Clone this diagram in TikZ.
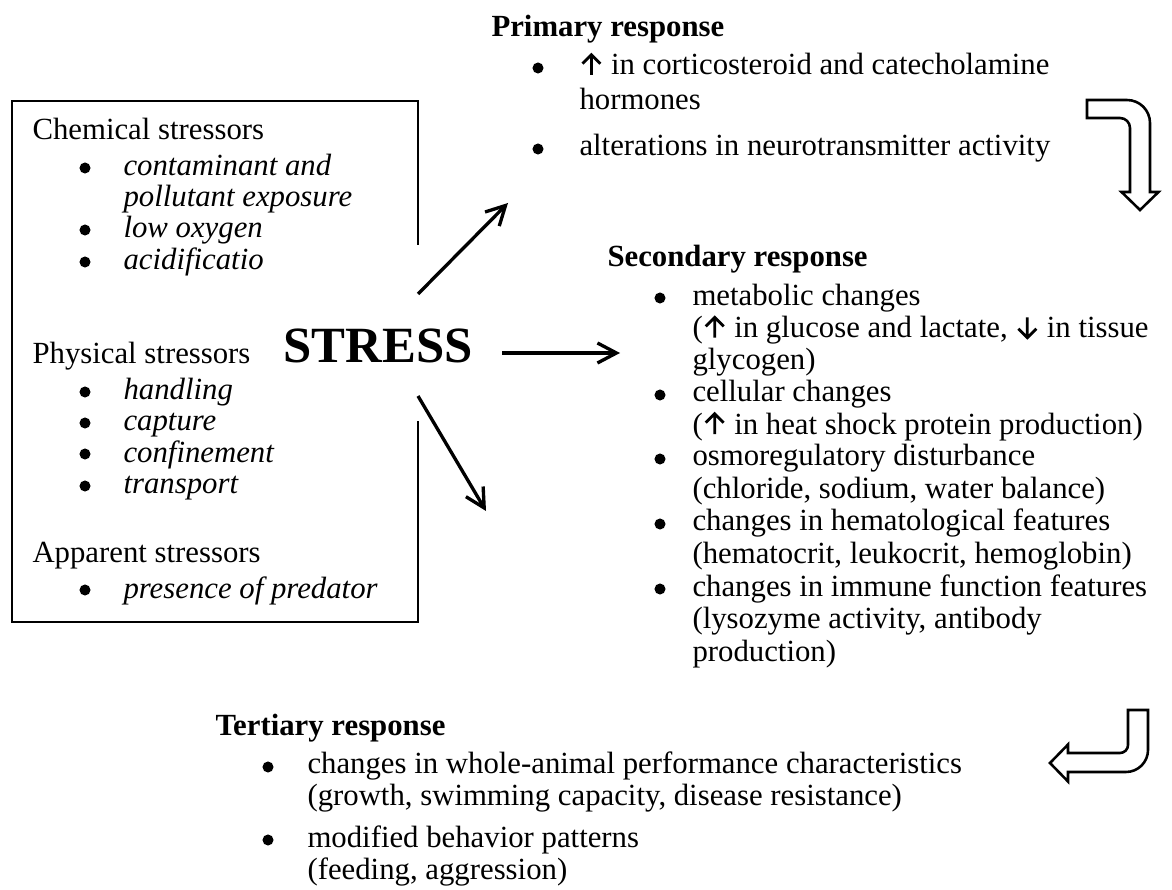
\documentclass[tikz,border=0pt]{standalone}
\usepackage{fontspec}
\setmainfont{Liberation Serif}
\usetikzlibrary{arrows.meta}
% heavy arrows used inside the response lists
\newcommand{\riseArrow}{\kern0.6pt\tikz[baseline=0pt, x=1pt, y=1pt] \draw[line width=1.1pt, line join=miter] (3.9,0) -- (3.9,7.8) (0.4,4.4) -- (3.9,7.9) -- (7.4,4.4);\kern0.6pt}
\newcommand{\dropArrow}{\kern0.6pt\tikz[baseline=0pt, x=1pt, y=1pt] \draw[line width=1.1pt, line join=miter] (3.9,7.9) -- (3.9,0.1) (0.4,3.5) -- (3.9,0) -- (7.4,3.5);\kern0.6pt}

\begin{document}
\begin{tikzpicture}[x=0.39pt, y=-0.39pt,
  box/.style={anchor=base west, inner sep=0pt, align=left, font=\fontsize{12}{12.2}\selectfont},
  boxit/.style={box, font=\fontsize{12}{12.2}\selectfont\itshape},
  prim/.style={box, font=\fontsize{12}{13.65}\selectfont},
  sec/.style={box, font=\fontsize{12}{12.6}\selectfont},
  ter/.style={box, font=\fontsize{12}{12.3}\selectfont},
  resp/.style={anchor=base west, inner sep=0pt, font=\fontsize{12}{12}\selectfont\bfseries},
  dot/.style={circle, fill, inner sep=0pt, minimum size=4.3pt},
  push/.style={line width=1.3pt, -{Straight Barb[length=7.4pt, width=7.8pt]}},
  hollow/.style={line width=1pt, line join=miter}]
\useasboundingbox (0,0) rectangle (1172,890);
% Stressor box (multi-line nodes sit on their last baseline)
\draw[line width=0.8pt] (12,101) rectangle (418,622);
\node[box] (chem) at (32,140) {Chemical stressors};
\node[dot] (cb1) at (85,168) {};
\node[boxit] (c1) at (123,207) {contaminant and\\pollutant exposure};
\node[dot] (cb2) at (85,230) {};
\node[boxit] (c2) at (123,238) {low oxygen};
\node[dot] (cb3) at (85,262) {};
\node[boxit] (c3) at (123,270) {acidification};
% STRESS, covers the box edge
\fill[white] (263,245) rectangle (495,421);
\node[anchor=base west, inner sep=0pt, font=\fontsize{19.8}{20}\selectfont\bfseries] (stress) at (283,363) {STRESS};
\node[box] (phys) at (32,364) {Physical stressors};
\node[dot] (pb1) at (85,392) {};
\node[boxit] (p1) at (123,400) {handling};
\node[dot] (pb2) at (85,423) {};
\node[boxit] (p2) at (123,431) {capture};
\node[dot] (pb3) at (85,454) {};
\node[boxit] (p3) at (123,462) {confinement};
\node[dot] (pb4) at (85,486) {};
\node[boxit] (p4) at (123,494) {transport};
\node[box] (appa) at (32,562) {Apparent stressors};
\node[dot] (ab1) at (85,590) {};
\node[boxit] (a1) at (123,598) {presence of predator};
% Arrows out of STRESS
\coordinate (up-s) at (418,294);
\coordinate (up-e) at (508,203);
\coordinate (mid-s) at (502,353);
\coordinate (mid-e) at (620,353);
\coordinate (low-s) at (418,396);
\coordinate (low-e) at (486,511);
\draw[push] (up-s) -- (up-e);
\draw[push] (mid-s) -- (mid-e);
\draw[push] (low-s) -- (low-e);
% Primary
\node[resp] (prim) at (491,37) {Primary response};
\node[dot] (rb1) at (538,68) {};
\node[prim] (r1) at (579,110) {\riseArrow{} in corticosteroid and catecholamine\\hormones};
\node[dot] (rb2) at (538,149) {};
\node[prim] (r2) at (579,156) {alterations in neurotransmitter activity};
% Secondary
\node[resp] (seco) at (607,267) {Secondary response};
\node[dot] (sb1) at (660,298) {};
\node[sec] (s1) at (692,370) {metabolic changes\\(\riseArrow{} in glucose and lactate, \dropArrow{} in tissue\\glycogen)};
\node[dot] (sb2) at (660,395) {};
\node[sec] (s2) at (692,434) {cellular changes\\(\riseArrow{} in heat shock protein production)};
\node[dot] (sb3) at (660,459) {};
\node[sec] (s3) at (692,498) {osmoregulatory disturbance\\(chloride, sodium, water balance)};
\node[dot] (sb4) at (660,524) {};
\node[sec] (s4) at (692,563) {changes in hematological features\\(hematocrit, leukocrit, hemoglobin)};
\node[dot] (sb5) at (660,589) {};
\node[sec] (s5) at (692,661) {changes in immune function features\\(lysozyme activity, antibody\\production)};
% Tertiary
\node[resp] (tert) at (215,735) {Tertiary response};
\node[dot] (tb1) at (268,767) {};
\node[ter] (t1) at (307,805) {changes in whole-animal performance characteristics\\(growth, swimming capacity, disease resistance)};
\node[dot] (tb2) at (268,840) {};
\node[ter] (t2) at (307,879) {modified behavior patterns\\(feeding, aggression)};
% Bent arrows
\draw[hollow] (1087,100) -- (1127,100) .. controls (1139.7,100) and (1150,110.3) .. (1150,123) -- (1150,192) -- (1158.5,192) -- (1140,210) -- (1121.5,192) -- (1130,192) -- (1130,128) .. controls (1130,122.5) and (1125.5,118) .. (1120,118) -- (1087,118) -- cycle;
\draw[hollow] (1128,710) -- (1148,710) -- (1148,750) .. controls (1148,762.1) and (1138.1,772) .. (1126,772) -- (1068,772) -- (1068,781.5) -- (1050,763) -- (1068,744.5) -- (1068,753) -- (1120,753) .. controls (1124.4,753) and (1128,749.4) .. (1128,745) -- cycle;
\end{tikzpicture}
\end{document}
